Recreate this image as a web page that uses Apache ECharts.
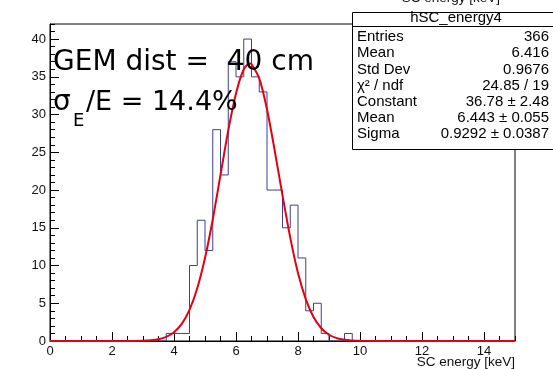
<!DOCTYPE html>
<html>
<head>
<meta charset="utf-8">
<style>
  html, body { margin: 0; padding: 0; background: #fff; }
  #chart { width: 553px; height: 369px; }
</style>
<script src="https://cdn.jsdelivr.net/npm/echarts@6/dist/echarts.min.js"></script>
</head>
<body>
<div id="chart"></div>
<script>
// histogram: left edge of each bin and its count (bin width 0.25 keV), last edge closes the outline
const binLeft = [0, 3.75, 4.0, 4.25, 4.5, 4.75, 5.0, 5.25, 5.5, 5.75, 6.0, 6.25, 6.5, 6.75, 7.0, 7.25, 7.5, 7.75, 8.0, 8.25, 8.5, 8.75, 9.0, 9.5, 9.75]
const counts = [0, 1, 1, 1, 10, 16, 12, 28, 22, 37, 35, 40, 35, 33, 20, 20, 15, 18, 11, 4, 5, 1, 0, 1, 0]
const lastEdge = 15

// gaussian fit curve
const fitX = [0, 2, 2.5, 3, 3.25, 3.5, 3.75, 4, 4.25, 4.5, 4.75, 5, 5.25, 5.5, 5.75, 6, 6.25, 6.45, 6.5, 6.75, 7, 7.25, 7.5, 7.75, 8, 8.25, 8.5, 8.75, 9, 9.25, 9.5, 9.75, 10, 11, 15]
const fitY = [0, 0, 0, 0.04, 0.1, 0.24, 0.55, 1.16, 2.27, 4.13, 7.0, 11.0, 16.1, 22.0, 27.9, 32.8, 36.0, 36.78, 36.7, 34.8, 30.7, 25.2, 19.3, 13.7, 9.0, 5.55, 3.17, 1.69, 0.83, 0.38, 0.16, 0.07, 0.02, 0, 0]

// stats box
const statsTitle = 'hSC_energy4'
const statsLabels = ['Entries', 'Mean', 'Std Dev', 'χ² / ndf', 'Constant', 'Mean', 'Sigma']
const statsValues = ['366', '6.416', '0.9676', '24.85 / 19', '36.78 ± 2.48', '6.443 ± 0.055', '0.9292 ± 0.0387']

const xTitle = 'SC energy [keV]'

const histData = binLeft.map((x, i) => [x, counts[i]])
histData.push([lastEdge, 0])
const fitData = fitX.map((x, i) => [x, fitY[i]])

const chart = echarts.init(document.getElementById('chart'), null, { renderer: 'canvas' })

const lblFont = { color: '#111', fontSize: 13, fontFamily: 'Liberation Sans' }
const statFont = '15px "Liberation Sans"'
const bigFont = '"DejaVu Sans"'

const statRows = []
const rowY = [37, 53, 70, 86, 102, 118, 134]
statsLabels.forEach((t, i) => {
  statRows.push({ type: 'text', z: 110, x: 357, y: rowY[i], style: { text: t, font: statFont, fill: '#000', verticalAlign: 'middle', align: 'left' } })
  statRows.push({ type: 'text', z: 110, x: 549, y: rowY[i], style: { text: statsValues[i], font: statFont, fill: '#000', verticalAlign: 'middle', align: 'right' } })
})

const option = {
  animation: false,
  backgroundColor: '#fff',
  grid: { left: 50, right: 38, top: 24, bottom: 28, show: true, borderColor: '#000', borderWidth: 1, outerBoundsMode: 'none' },
  xAxis: [
    {
      type: 'value', min: 0, max: 15, interval: 2,
      axisLine: { lineStyle: { color: '#000', width: 1 } },
      axisTick: { inside: true, length: 9, lineStyle: { color: '#000' } },
      axisLabel: { ...lblFont, margin: 4, showMaxLabel: false },
      splitLine: { show: false }
    },
    {
      type: 'value', min: 0, max: 15, interval: 0.5, position: 'bottom',
      axisLine: { show: false },
      axisTick: { inside: true, length: 5, lineStyle: { color: '#000' } },
      axisLabel: { show: false },
      splitLine: { show: false }
    }
  ],
  yAxis: [
    {
      type: 'value', min: 0, max: 42, interval: 5,
      axisLine: { show: true, lineStyle: { color: '#000', width: 1 } },
      axisTick: { show: true, inside: true, length: 9, lineStyle: { color: '#000' } },
      axisLabel: { ...lblFont, margin: 4, showMaxLabel: false },
      splitLine: { show: false }
    },
    {
      type: 'value', min: 0, max: 42, interval: 1, position: 'left', offset: 0,
      axisLine: { show: false },
      axisTick: { show: true, inside: true, length: 5, lineStyle: { color: '#000' } },
      axisLabel: { show: false },
      splitLine: { show: false }
    }
  ],
  series: [
    {
      type: 'line', step: 'end', data: histData, symbol: 'none',
      lineStyle: { color: '#3d3d96', width: 1 }, z: 3
    },
    {
      type: 'line', smooth: 0.3, data: fitData, symbol: 'none',
      lineStyle: { color: '#e4000f', width: 2 }, z: 4
    }
  ],
  graphic: [
    { type: 'text', z: 100, x: 53, y: 63, style: { text: 'GEM dist =  40 cm', font: '28px ' + bigFont, fill: '#000', verticalAlign: 'middle' } },
    { type: 'text', z: 100, x: 53, y: 103, style: { text: 'σ', font: '28px ' + bigFont, fill: '#000', verticalAlign: 'middle' } },
    { type: 'text', z: 100, x: 73, y: 121, style: { text: 'E', font: '18px ' + bigFont, fill: '#000', verticalAlign: 'middle' } },
    { type: 'text', z: 100, x: 86, y: 103, style: { text: '/E = 14.4%', font: '27px ' + bigFont, fill: '#000', verticalAlign: 'middle' } },
    { type: 'text', z: 100, x: 515, y: 362, style: { text: xTitle, font: '13.5px "Liberation Sans"', fill: '#111', align: 'right', verticalAlign: 'middle' } },
    { type: 'text', z: 100, x: 500, y: -2, style: { text: xTitle, font: '13.5px "Liberation Sans"', fill: '#111', align: 'right', verticalAlign: 'middle' } },
    { type: 'rect', z: 105, shape: { x: 352.5, y: 12.5, width: 210, height: 137 }, style: { fill: '#fff', stroke: '#000', lineWidth: 1 } },
    { type: 'line', z: 106, shape: { x1: 352.5, y1: 26.5, x2: 553, y2: 26.5 }, style: { stroke: '#000', lineWidth: 1 } },
    { type: 'text', z: 110, x: 456, y: 18, style: { text: statsTitle, font: statFont, fill: '#000', align: 'center', verticalAlign: 'middle' } },
    ...statRows
  ]
}

chart.setOption(option)
</script>
</body>
</html>
